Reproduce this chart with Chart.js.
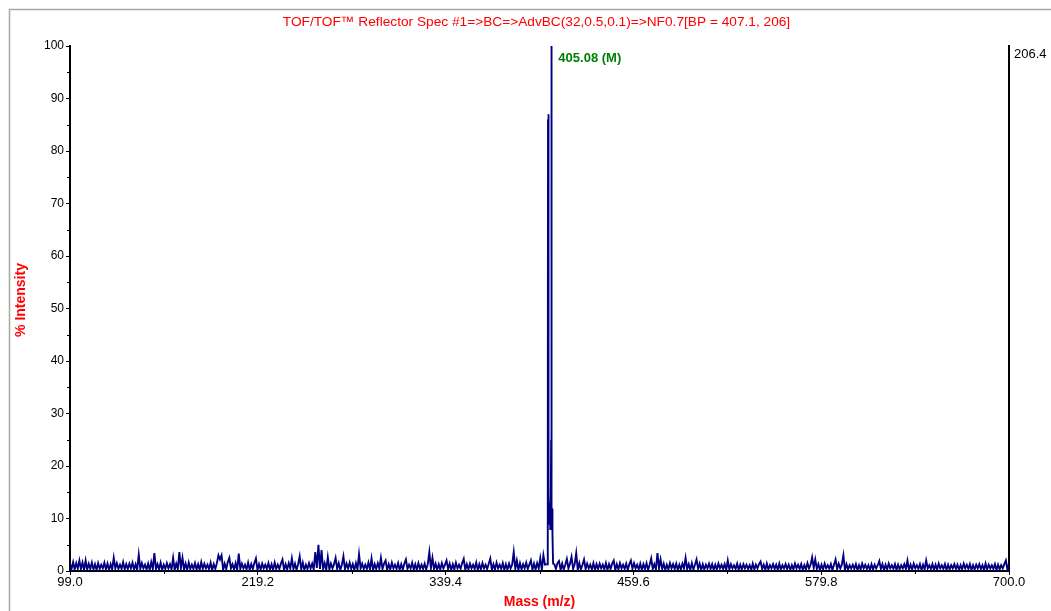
<!DOCTYPE html>
<html>
<head>
<meta charset="utf-8">
<title>TOF/TOF Reflector Spec #1</title>
<script src="https://cdn.jsdelivr.net/npm/chart.js@4/dist/chart.umd.min.js"></script>
<style>
  html, body { margin:0; padding:0; background:#fff; }
  #wrap { width:1051px; height:611px; }
</style>
</head>
<body>
<div id="wrap"><canvas id="spec" width="1051" height="611"></canvas></div>
<script>
// spectrum: intensity in % of base peak, sampled every 1 m/z outside the peak cluster
const massStep = 1;
const lowMassStart = 99;
const lowMassIntensity = [
  1.4,0.4,1.7,0.3,1.5,0.5,2.0,0.4,1.6,0.2,   // 99
  2.0,0.3,1.4,0.4,1.6,0.3,1.3,0.2,1.5,0.4,   // 109
  1.2,0.5,1.6,0.3,1.4,0.2,1.3,0.3,2.5,0.5,   // 119
  1.5,0.4,1.2,0.4,1.7,0.3,1.3,0.4,1.4,0.5,   // 129
  1.6,0.3,1.3,0.2,3.1,0.4,1.5,0.5,1.2,0.3,   // 139
  1.4,0.2,1.7,0.4,3.4,0.4,1.3,0.3,1.6,0.2,   // 149
  1.2,0.4,1.5,0.5,1.3,0.3,2.5,0.2,1.4,0.4,   // 159
  3.6,0.5,2.5,0.3,1.4,0.2,1.6,0.4,1.2,0.4,   // 169
  1.5,0.3,1.3,0.2,1.7,0.4,1.4,0.5,1.2,0.3,   // 179
  1.6,0.2,1.3,0.4,1.5,3.0,2.2,3.0,0.2,1.4,   // 189
  0.4,1.7,2.5,0.5,1.3,0.3,1.5,0.2,3.3,0.4,   // 199
  1.4,0.5,1.2,0.3,1.6,0.2,1.3,0.4,1.5,2.4,   // 209
  0.2,1.3,0.3,1.4,0.5,1.2,0.4,1.5,0.3,1.3,   // 219
  0.2,1.6,0.4,1.2,0.4,1.4,2.2,0.2,1.3,0.3,   // 229
  1.5,0.5,2.4,0.4,1.4,0.2,1.3,2.8,0.3,1.6,   // 239
  0.2,1.2,0.4,1.5,0.5,1.4,0.3,3.6,0.6,5.0,   // 249
  0.4,4.0,0.4,1.5,0.2,2.6,0.3,1.4,0.5,1.3,   // 259
  2.5,0.4,1.5,0.2,1.2,2.8,0.3,1.4,0.5,1.6,   // 269
  0.4,1.3,0.2,1.5,0.3,3.2,0.5,1.4,0.4,1.2,   // 279
  0.4,1.6,0.3,2.4,0.2,1.3,0.4,1.5,0.5,2.5,   // 289
  0.4,1.4,2.0,0.2,1.3,0.3,1.6,0.5,1.2,0.4,   // 299
  1.5,0.2,1.3,0.3,1.4,2.2,0.4,1.2,0.5,1.6,   // 309
  0.3,1.3,0.2,1.5,0.4,1.2,0.4,1.4,0.3,1.3,   // 319
  3.6,0.5,2.5,0.4,1.4,0.2,1.3,0.3,1.5,0.5,   // 329
  1.2,2.0,0.4,1.4,0.2,1.3,0.3,1.6,0.5,1.2,   // 339
  0.4,1.5,2.3,0.2,1.3,0.3,1.4,0.5,1.2,0.4,   // 349
  1.6,0.2,1.3,0.3,1.5,0.5,1.2,0.4,1.4,2.4,   // 359
  0.2,1.3,0.3,1.6,0.5,1.2,0.4,1.5,0.2,1.3,   // 369
  0.3,1.4,0.5,1.2,3.6,0.4,2.0,0.2,1.5,0.3,   // 379
  1.3,0.5,1.6,0.4,1.2,2.0,0.2,1.4,0.3,1.5,   // 389
  0.5,2.4,0.2,3.0,1.2                        // 399
];

// molecular ion cluster
const peakMass      = [404.6, 404.8, 404.95, 405.08, 405.25, 405.5, 405.8, 406.1, 406.4, 406.7, 406.95, 407.1, 407.3, 407.55, 407.8, 408.2];
const peakIntensity = [1.3,   20,    86,     87,     10,     14.7,  9,     13,    8,     11,    25,     100,   12,    11.8,   7,     1.4];

const highMassStart = 409;
const highMassIntensity = [
  1.3,0.4,1.5,1.9,0.2,1.4,0.3,1.2,2.3,0.5,   // 409
  1.4,2.7,0.4,1.3,3.4,0.2,1.5,0.3,1.2,2.2,   // 419
  0.4,1.4,0.5,1.2,0.3,1.5,0.2,1.3,0.4,1.4,   // 429
  0.5,1.2,0.3,1.5,0.2,1.3,0.4,1.4,2.0,0.2,   // 439
  1.3,0.3,1.5,0.5,1.2,0.4,1.4,0.2,1.3,2.0,   // 449
  0.4,1.5,0.5,1.2,0.3,1.4,0.2,1.3,0.4,1.5,   // 459
  0.2,1.2,2.4,0.4,1.3,0.3,3.4,0.5,2.2,0.4,   // 469
  1.4,0.2,1.2,0.3,1.5,0.5,1.3,0.4,1.4,0.2,   // 479
  1.2,0.3,1.4,0.5,2.5,0.4,1.3,0.2,1.5,0.3,   // 489
  1.2,2.2,0.4,1.4,0.2,1.3,0.3,1.2,0.5,1.4,   // 499
  0.4,1.3,0.2,1.2,0.3,1.4,0.5,1.2,0.4,1.3,   // 509
  0.2,2.0,0.3,1.3,0.5,1.1,0.4,1.4,0.2,1.2,   // 519
  0.3,1.3,0.5,1.2,0.4,1.1,0.2,1.4,0.3,1.2,   // 529
  0.5,1.3,1.8,0.4,1.2,0.2,1.4,0.3,1.1,0.5,   // 539
  1.3,0.4,1.2,0.2,1.4,0.3,1.1,0.5,1.3,0.4,   // 549
  1.2,0.2,1.1,0.3,1.4,0.5,1.2,0.4,1.3,0.2,   // 559
  1.1,0.3,1.5,0.5,1.2,2.6,0.6,2.2,0.4,1.3,   // 569
  0.2,1.2,0.3,1.4,0.5,1.1,0.4,1.3,0.2,1.2,   // 579
  2.2,0.4,1.4,0.5,1.2,3.0,0.2,1.3,0.3,1.1,   // 589
  0.5,1.2,0.4,1.3,0.2,1.1,0.3,1.4,0.5,1.2,   // 599
  0.4,1.1,0.2,1.3,0.3,1.2,0.5,1.1,1.9,0.4,   // 609
  1.3,0.2,1.2,0.3,1.4,0.5,1.1,0.4,1.3,0.2,   // 619
  1.2,0.3,1.1,0.5,1.3,0.4,2.0,0.2,1.2,0.3,   // 629
  1.4,0.5,1.1,0.4,1.3,0.2,1.2,0.3,2.0,0.5,   // 639
  1.1,0.4,1.3,0.2,1.2,0.3,1.4,0.5,1.1,0.4,   // 649
  1.3,0.2,1.2,0.3,1.1,0.5,1.3,0.4,1.2,0.2,   // 659
  1.1,0.3,1.4,0.5,1.2,0.4,1.3,0.2,1.1,0.3,   // 669
  1.2,0.5,1.3,0.4,1.1,0.2,1.4,0.3,1.2,0.5,   // 679
  1.1,0.4,1.3,0.2,1.2,0.3,1.1,0.5,1.3,2.0,   // 689
  0.2,1.4                                    // 699
];

const xMajorTicks = [99.0, 219.2, 339.4, 459.6, 579.8, 700.0];
const xMinorTicks = [159.1, 279.3, 399.5, 519.7, 639.9];
const yMajorTicks = [0, 10, 20, 30, 40, 50, 60, 70, 80, 90, 100];
const yMinorTicks = [5, 15, 25, 35, 45, 55, 65, 75, 85, 95];
const maxCounts = 206.4;
const labelMass = 405.08;
const basePeakMass = 407.1;

const FONT = "'Liberation Sans', Arial, sans-serif";
const RED = '#ff0000';

const spectrum = [];
lowMassIntensity.forEach((v, i) => spectrum.push({ x: lowMassStart + i * massStep, y: v }));
peakMass.forEach((m, i) => spectrum.push({ x: m, y: peakIntensity[i] }));
highMassIntensity.forEach((v, i) => spectrum.push({ x: highMassStart + i * massStep, y: v }));

// window frame, minor ticks, rotated y title and the peak annotation
const decorations = {
  id: 'decorations',
  beforeDraw(chart) {
    const c = chart.ctx;
    c.save();
    c.fillStyle = '#fff';
    c.fillRect(0, 0, chart.width, chart.height);
    c.strokeStyle = '#a8a8a0';
    c.lineWidth = 1.5;
    c.beginPath();
    c.moveTo(9.5, chart.height);
    c.lineTo(9.5, 9.5);
    c.lineTo(chart.width, 9.5);
    c.stroke();
    c.restore();
  },
  afterDraw(chart) {
    const c = chart.ctx;
    const xs = chart.scales.x, ys = chart.scales.y;
    const area = chart.chartArea;
    c.save();
    c.strokeStyle = '#000';
    c.lineWidth = 1;
    c.beginPath();
    yMinorTicks.forEach(v => {
      const py = Math.round(ys.getPixelForValue(v)) + 0.5;
      c.moveTo(area.left - 3, py);
      c.lineTo(area.left - 1, py);
    });
    xMinorTicks.forEach(v => {
      const px = Math.round(xs.getPixelForValue(v)) + 0.5;
      c.moveTo(px, area.bottom + 1);
      c.lineTo(px, area.bottom + 3);
    });
    c.stroke();

    // y axis title
    c.translate(21, 300);
    c.rotate(-Math.PI / 2);
    c.fillStyle = RED;
    c.font = 'bold 14px ' + FONT;
    c.textAlign = 'center';
    c.textBaseline = 'middle';
    c.fillText('% Intensity', 0, 0);
    c.restore();

    // peak label
    c.save();
    c.fillStyle = '#008000';
    c.font = 'bold 13px ' + FONT;
    c.textAlign = 'left';
    c.textBaseline = 'middle';
    c.fillText(labelMass.toFixed(2) + ' (M)', xs.getPixelForValue(basePeakMass) + 7, ys.getPixelForValue(100) + 12);
    c.restore();
  }
};

new Chart(document.getElementById('spec'), {
  type: 'line',
  data: {
    datasets: [{
      data: spectrum,
      borderColor: '#000080',
      borderWidth: 1.9,
      pointRadius: 0,
      fill: false,
      tension: 0,
      yAxisID: 'y'
    }]
  },
  options: {
    responsive: false,
    animation: false,
    devicePixelRatio: 1,
    layout: { padding: { left: 22, right: 0, top: 0, bottom: 0 } },
    plugins: {
      legend: { display: false },
      tooltip: { enabled: false },
      title: {
        display: true,
        text: 'TOF/TOF\u2122 Reflector Spec #1=>BC=>AdvBC(32,0.5,0.1)=>NF0.7[BP = 407.1, 206]',
        color: RED,
        font: { family: FONT, size: 13.7, weight: 'normal' },
        padding: { top: 14, bottom: 15.6 }
      }
    },
    scales: {
      x: {
        type: 'linear',
        min: 99, max: 700,
        afterBuildTicks: s => { s.ticks = xMajorTicks.map(v => ({ value: v })); },
        afterFit: s => { s.height = 40; },
        ticks: {
          autoSkip: false, maxRotation: 0, padding: 0,
          color: '#000', font: { family: FONT, size: 13 },
          callback: v => Number(v).toFixed(1)
        },
        grid: { drawOnChartArea: false, drawTicks: true, tickLength: 4, tickColor: '#000' },
        border: { display: true, color: '#000', width: 2 },
        title: {
          display: true, text: 'Mass (m/z)', color: RED,
          font: { family: FONT, size: 14, weight: 'bold' },
          padding: { top: 0, bottom: 0 }
        }
      },
      y: {
        position: 'left',
        min: 0, max: 100,
        afterBuildTicks: s => { s.ticks = yMajorTicks.map(v => ({ value: v })); },
        afterFit: s => { s.width = 48; },
        ticks: { padding: 2, color: '#000', font: { family: FONT, size: 12 } },
        grid: { drawOnChartArea: false, drawTicks: true, tickLength: 4, tickColor: '#000' },
        border: { display: true, color: '#000', width: 2 }
      },
      y2: {
        position: 'right',
        min: 0, max: maxCounts,
        afterBuildTicks: s => { s.ticks = [{ value: maxCounts }]; },
        afterFit: s => { s.width = 42; },
        ticks: { padding: 5, labelOffset: 8, color: '#000', font: { family: FONT, size: 13 },
                 callback: v => Number(v).toFixed(1) },
        grid: { drawOnChartArea: false, drawTicks: false },
        border: { display: true, color: '#000', width: 2 }
      }
    }
  },
  plugins: [decorations]
});
</script>
</body>
</html>
